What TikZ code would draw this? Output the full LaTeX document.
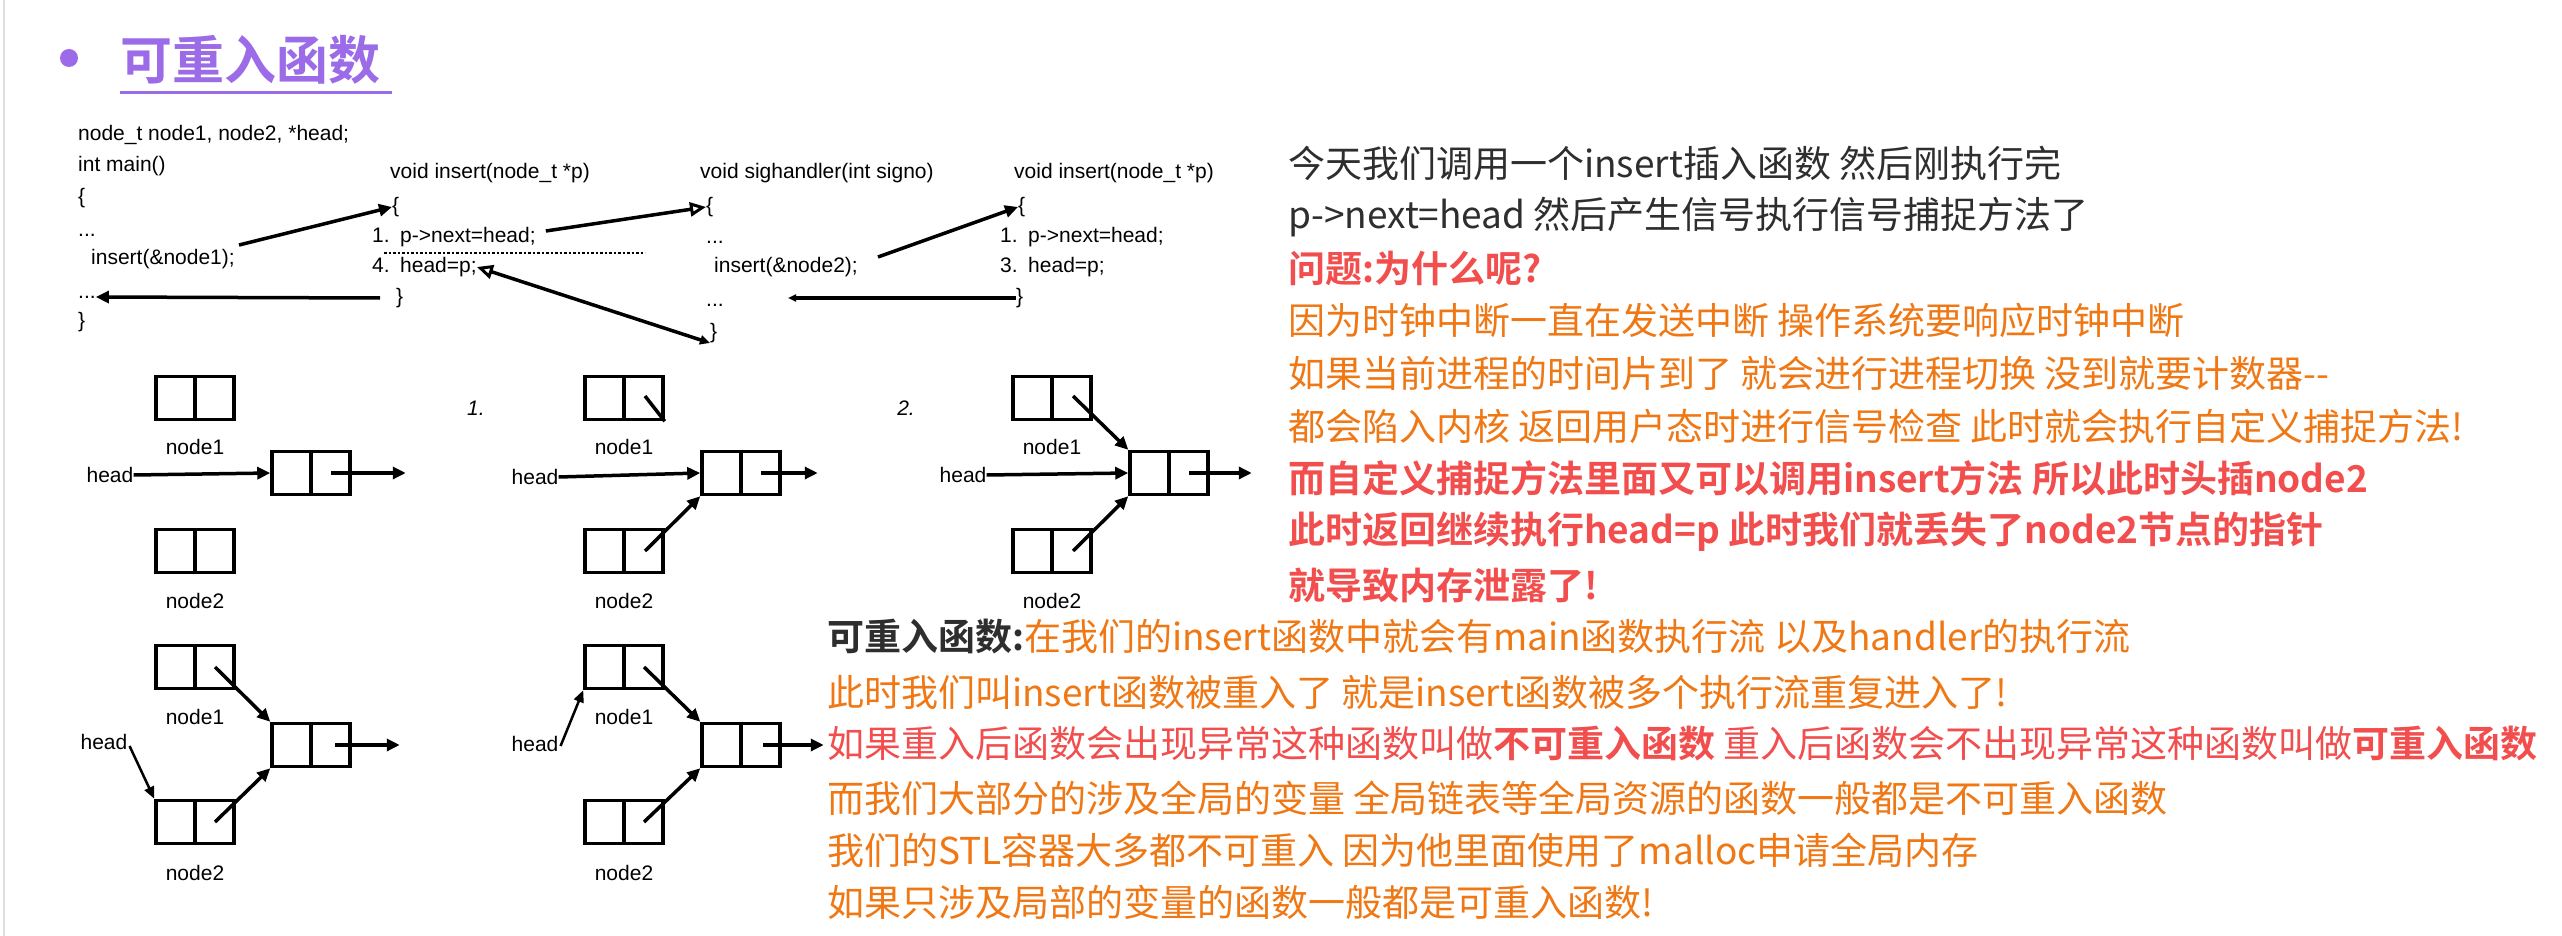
\documentclass[tikz,border=0pt]{standalone}
\usepackage{fontspec}
\setmainfont{Liberation Sans}
\newfontfamily\cjk[BoldFont={Noto Sans CJK SC Bold}]{Noto Sans CJK SC}
\usetikzlibrary{arrows.meta,calc}
\definecolor{tpurple}{HTML}{9B6BE8}
\definecolor{torange}{HTML}{F07814}
\definecolor{tred}{HTML}{F24E4E}
\definecolor{tdark}{HTML}{2E2E2E}
\begin{document}
\begin{tikzpicture}[x=1pt,y=-1pt,
  code/.style={anchor=west,inner sep=0pt,font=\fontsize{21}{21}\selectfont},
  lbl/.style={inner sep=0pt,font=\fontsize{21}{21}\selectfont},
  cell/.style={draw,line width=3.5pt,minimum width=78pt,minimum height=43pt,inner sep=0pt,
    path picture={\draw[line width=3.5pt] (path picture bounding box.north) -- (path picture bounding box.south);}},
  arr/.style={line width=3.5pt,-{Triangle[length=13pt,width=12pt]}},
  oarr/.style={line width=3.5pt,-{Triangle[open,length=16pt,width=14pt,line width=3pt]}},
  txt/.style={anchor=west,inner sep=0pt,font=\cjk\fontsize{37}{37}\selectfont},
]
\useasboundingbox (0,0) rectangle (2562,936);
\fill[white] (0,0) rectangle (2562,936);
\draw[gray!25,line width=2pt] (4,0) -- (4,936);
% title
\fill[tpurple] (69,58) circle (9);
\node[anchor=west,inner sep=0pt,text=tpurple,font=\cjk\bfseries\fontsize{52}{52}\selectfont] (title) at (120,60) {可重入函数};
\draw[tpurple,line width=3pt] (title.south west) ++(0,8) -- ++(272,0);
% code column 1
\node[code] (m1) at (78,135) {node\_t node1, node2, *head;};
\node[code] (m2) at (78,166) {int main()};
\node[code] (m3) at (78,198) {\{};
\node[code] (m4) at (78,235) {...};
\node[code] (m5) at (91,259) {insert(\&node1);};
\node[code] (m6) at (78,297) {...};
\node[code] (m7) at (78,322) {\}};
% column 2
\node[code] (a1) at (390,173) {void insert(node\_t *p)};
\node[code] (a2) at (392,207) {\{};
\node[code] (a3) at (372,237) {1.\enspace p->next=head;};
\node[code] (a4) at (372,267) {4.\enspace head=p;};
\node[code] (a5) at (396,298) {\}};
\draw[line width=2.5pt,dotted] (384,253) -- (645,253);
% column 3
\node[code] (s1) at (700,173) {void sighandler(int signo)};
\node[code] (s2) at (706,207) {\{};
\node[code] (s3) at (706,242) {...};
\node[code] (s4) at (714,267) {insert(\&node2);};
\node[code] (s5) at (706,305) {...};
\node[code] (s6) at (710,333) {\}};
% column 4
\node[code] (b1) at (1014,173) {void insert(node\_t *p)};
\node[code] (b2) at (1018,207) {\{};
\node[code] (b3) at (1000,237) {1.\enspace p->next=head;};
\node[code] (b4) at (1000,267) {3.\enspace head=p;};
\node[code] (b5) at (1016,298) {\}};
% code arrows
\draw[arr] (m5.north east) ++(4,-4) coordinate (q1) -- (a2.west);
\draw[oarr] (a3.east) ++(10,-6) coordinate (q2) -- (s2.west);
\draw[line width=3.5pt,{Triangle[open,length=16pt,width=14pt,line width=3pt]}-{Triangle[length=10pt,width=9pt]}] (a4.east) -- (s6.south west);
\draw[arr] (s4.east) ++(20,-10) coordinate (q3) -- (b2.west);
\draw[line width=3.5pt,-{Triangle[length=8pt,width=7pt]}] (b5.west) -- ++(-228,0) coordinate (q4);
\draw[arr] (a5.west) ++(-16,0) coordinate (q5) -- (m6.east);
% panel A
\node[cell] (A1) at (195,398) {};
\node[cell] (AM) at (311,473) {};
\node[cell] (A2) at (195,551) {};
\node[lbl] (A1l) at (195,447) {node1};
\node[lbl] (A2l) at (195,601) {node2};
\node[lbl] (Ah) at (110,475) {head};
\draw[arr] (Ah.east) -- (AM.west);
\draw[arr] ($(AM.center)+(20,0)$) -- ($(AM.east)+(54,0)$);
% panel B
\node[lbl] (Bn) at (476,408) {\itshape 1.};
\node[cell] (B1) at (624,398) {};
\node[cell] (BM) at (741,473) {};
\node[cell] (B2) at (624,551) {};
\node[lbl] (B1l) at (624,447) {node1};
\node[lbl] (B2l) at (624,601) {node2};
\node[lbl] (Bh) at (535,477) {head};
\draw[arr] (Bh.east) -- (BM.west);
\draw[line width=3.5pt] ($(B1.center)+(21,-2)$) -- (B1.south east);
\draw[arr] ($(B2.center)+(21,0)$) -- (BM.south west);
\draw[arr] ($(BM.center)+(20,0)$) -- ($(BM.east)+(36,0)$);
% panel C
\node[lbl] (Cn) at (906,408) {\itshape 2.};
\node[cell] (C1) at (1052,398) {};
\node[cell] (CM) at (1169,473) {};
\node[cell] (C2) at (1052,551) {};
\node[lbl] (C1l) at (1052,447) {node1};
\node[lbl] (C2l) at (1052,601) {node2};
\node[lbl] (Ch) at (963,475) {head};
\draw[arr] (Ch.east) -- (CM.west);
\draw[arr] ($(C1.center)+(21,-2)$) -- (CM.north west);
\draw[arr] ($(C2.center)+(21,0)$) -- (CM.south west);
\draw[arr] ($(CM.center)+(20,0)$) -- ($(CM.east)+(42,0)$);
% panel D
\node[cell] (D1) at (195,667) {};
\node[cell] (DM) at (311,745) {};
\node[cell] (D2) at (195,822) {};
\node[lbl] (D1l) at (195,717) {node1};
\node[lbl] (D2l) at (195,873) {node2};
\node[lbl] (Dh) at (104,742) {head};
\draw[line width=2.5pt,-{Triangle[length=12pt,width=10pt]}] (Dh.east) ++(2,4) coordinate (q6) -- (D2.north west);
\draw[arr] ($(D1.center)+(20,0)$) -- (DM.north west);
\draw[arr] ($(D2.center)+(20,0)$) -- (DM.south west);
\draw[arr] ($(DM.center)+(24,0)$) -- ($(DM.east)+(48,0)$);
% panel E
\node[cell] (E1) at (624,667) {};
\node[cell] (EM) at (741,745) {};
\node[cell] (E2) at (624,822) {};
\node[lbl] (E1l) at (624,717) {node1};
\node[lbl] (E2l) at (624,873) {node2};
\node[lbl] (Eh) at (535,744) {head};
\draw[line width=2.5pt,-{Triangle[length=12pt,width=10pt]}] (Eh.east) ++(2,2) coordinate (q7) -- (E1.south west);
\draw[arr] ($(E1.center)+(20,0)$) -- (EM.north west);
\draw[arr] ($(E2.center)+(20,0)$) -- (EM.south west);
\draw[arr] ($(EM.center)+(22,0)$) -- ($(EM.east)+(42,0)$);
% right text
\node[txt,text=tdark] (r1) at (1288,163) {今天我们调用一个insert插入函数 然后刚执行完};
\node[txt,text=tdark] (r2) at (1288,217) {p->next=head 然后产生信号执行信号捕捉方法了};
\node[txt,text=tred] (r3) at (1288,268) {\bfseries 问题:为什么呢?};
\node[txt,text=torange] (r4) at (1288,320) {因为时钟中断一直在发送中断 操作系统要响应时钟中断};
\node[txt,text=torange] (r5) at (1288,373) {如果当前进程的时间片到了 就会进行进程切换 没到就要计数器--};
\node[txt,text=torange] (r6) at (1288,426) {都会陷入内核 返回用户态时进行信号检查 此时就会执行自定义捕捉方法!};
\node[txt,text=tred] (r7) at (1288,478) {\bfseries 而自定义捕捉方法里面又可以调用insert方法 所以此时头插node2};
\node[txt,text=tred] (r8) at (1288,532) {\bfseries 此时返回继续执行head=p 此时我们就丢失了node2节点的指针};
\node[txt,text=tred] (r9) at (1288,585) {\bfseries 就导致内存泄露了!};
\node[txt,text=torange] (l1) at (827,637) {\textcolor{tdark}{\bfseries 可重入函数:}在我们的insert函数中就会有main函数执行流 以及handler的执行流};
\node[txt,text=torange] (l2) at (827,692) {此时我们叫insert函数被重入了 就是insert函数被多个执行流重复进入了!};
\node[txt,text=tred] (l3) at (827,744) {如果重入后函数会出现异常这种函数叫做{\bfseries 不可重入函数} 重入后函数会不出现异常这种函数叫做{\bfseries 可重入函数}};
\node[txt,text=torange] (l4) at (827,798) {而我们大部分的涉及全局的变量 全局链表等全局资源的函数一般都是不可重入函数};
\node[txt,text=torange] (l5) at (827,850) {我们的STL容器大多都不可重入 因为他里面使用了malloc申请全局内存};
\node[txt,text=torange] (l6) at (827,902) {如果只涉及局部的变量的函数一般都是可重入函数!};
\end{tikzpicture}
\end{document}
